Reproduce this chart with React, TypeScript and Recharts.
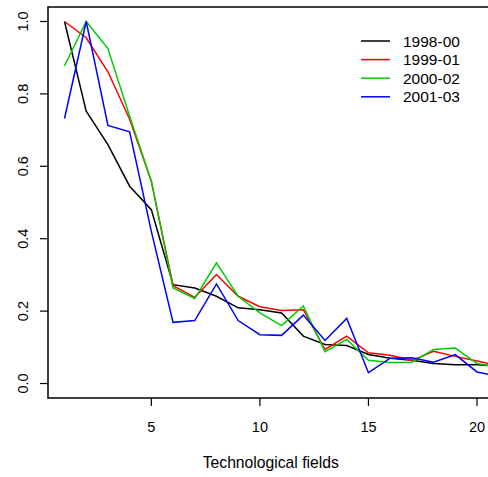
import React from "react";
import { LineChart, Line, XAxis, YAxis, ReferenceArea, Label } from "recharts";

const fields = [1, 2, 3, 4, 5, 6, 7, 8, 9, 10, 11, 12, 13, 14, 15, 16, 17, 18, 19, 20, 21];
const s1998 = [1.0, 0.752, 0.66, 0.545, 0.48, 0.273, 0.264, 0.241, 0.209, 0.204, 0.195, 0.131, 0.108, 0.105, 0.08, 0.07, 0.064, 0.055, 0.052, 0.052, 0.048];
const s1999 = [1.0, 0.955, 0.861, 0.73, 0.559, 0.27, 0.238, 0.301, 0.241, 0.212, 0.202, 0.204, 0.094, 0.131, 0.085, 0.078, 0.064, 0.089, 0.075, 0.062, 0.049];
const s2000 = [0.877, 1.0, 0.925, 0.738, 0.559, 0.264, 0.235, 0.333, 0.241, 0.195, 0.16, 0.214, 0.088, 0.122, 0.064, 0.058, 0.059, 0.094, 0.098, 0.055, 0.045];
const s2001 = [0.732, 1.0, 0.713, 0.695, 0.42, 0.169, 0.174, 0.275, 0.174, 0.135, 0.133, 0.189, 0.119, 0.18, 0.03, 0.07, 0.071, 0.059, 0.08, 0.032, 0.019];
const xTicks = [5, 10, 15, 20];
const yTicks = [0, 0.2, 0.4, 0.6, 0.8, 1.0];

const series = [
  { key: "s1998", name: "1998-00", color: "#000000", values: s1998 },
  { key: "s1999", name: "1999-01", color: "#ff0000", values: s1999 },
  { key: "s2000", name: "2000-02", color: "#00cc00", values: s2000 },
  { key: "s2001", name: "2001-03", color: "#0000ff", values: s2001 },
];

const data = fields.map((f, i) => {
  const row: Record<string, number> = { field: f };
  series.forEach((s) => (row[s.key] = s.values[i]));
  return row;
});

const FONT = "'Liberation Sans', Arial, sans-serif";

const YTick = (props: any) => {
  const { y, payload } = props;
  return (
    <text
      x={0}
      y={0}
      transform={`translate(28, ${y}) rotate(-90)`}
      textAnchor="middle"
      fontSize={14.5}
      fontFamily={FONT}
      fill="#000"
    >
      {Number(payload.value).toFixed(1)}
    </text>
  );
};

const XTick = (props: any) => {
  const { x, payload } = props;
  return (
    <text x={x} y={432} textAnchor="middle" fontSize={14.5} fontFamily={FONT} fill="#000">
      {payload.value}
    </text>
  );
};

const LegendBox = () => (
  <svg
    width={130}
    height={80}
    style={{ position: "absolute", left: 358, top: 30 }}
  >
    {series.map((s, i) => {
      const cy = 11 + i * 18.6;
      return (
        <g key={s.key}>
          <line x1={3} x2={32} y1={cy} y2={cy} stroke={s.color} strokeWidth={1.5} />
          <text x={45} y={cy + 5.5} fontSize={15.5} fontFamily={FONT} fill="#000">
            {s.name}
          </text>
        </g>
      );
    })}
  </svg>
);

export default function App() {
  return (
    <div style={{ position: "absolute", left: 0, top: 0, width: 488, height: 477, overflow: "hidden", background: "#fff" }}>
      <LineChart width={500} height={477} data={data} margin={{ top: 7, right: 6.5, bottom: 0, left: 0 }}>
        <XAxis
          dataKey="field"
          type="number"
          domain={[0.24, 20.76]}
          allowDataOverflow
          ticks={xTicks}
          interval={0}
          axisLine={false}
          tickLine={{ stroke: "#000", strokeWidth: 1.2 }}
          tickSize={8}
          height={79}
          tick={<XTick />}
        >
          <Label
            value="Technological fields"
            position="insideBottom"
            offset={9}
            style={{ fontFamily: FONT, fontSize: 15.7, fill: "#000" }}
          />
        </XAxis>
        <YAxis
          type="number"
          domain={[-0.04, 1.04]}
          allowDataOverflow
          ticks={yTicks}
          interval={0}
          axisLine={false}
          tickLine={{ stroke: "#000", strokeWidth: 1.2 }}
          tickSize={8}
          width={48}
          tick={<YTick />}
        />
        <ReferenceArea x1={0.24} x2={20.76} y1={-0.04} y2={1.04} fill="none" stroke="#000" strokeWidth={1.5} ifOverflow="visible" />
        {series.map((s) => (
          <Line
            key={s.key}
            type="linear"
            dataKey={s.key}
            name={s.name}
            stroke={s.color}
            strokeWidth={1.5}
            dot={false}
            activeDot={false}
            isAnimationActive={false}
          />
        ))}
      </LineChart>
      <LegendBox />
    </div>
  );
}
